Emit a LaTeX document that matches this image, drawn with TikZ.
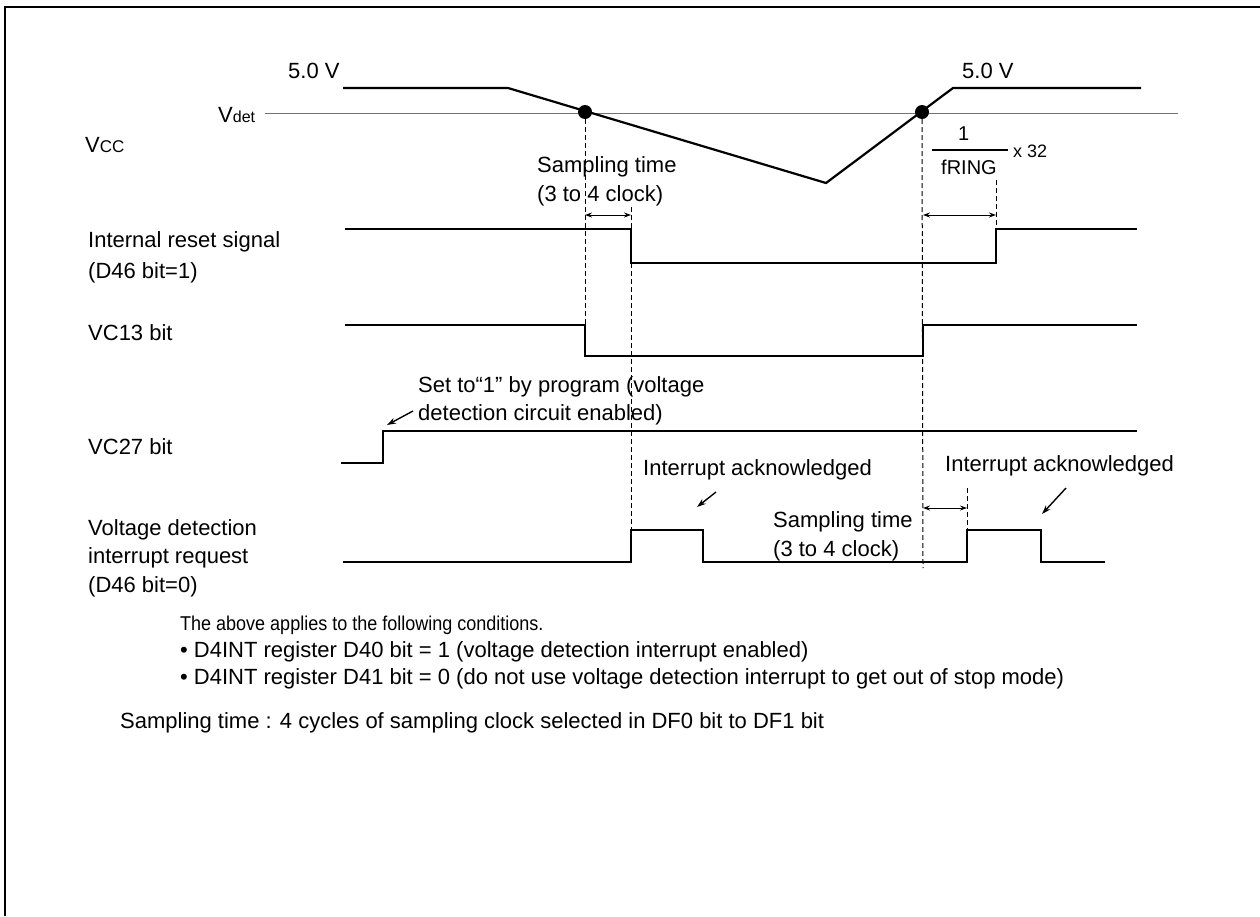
\documentclass[tikz,border=0pt]{standalone}
\usepackage{fontspec}
\usepackage{graphicx}
\setmainfont{Liberation Sans}
\usetikzlibrary{arrows.meta}

\begin{document}
\begin{tikzpicture}[x=1pt,y=-1pt]
    \tikzset{
        lbl/.style={anchor=base west,inner sep=0pt,font=\fontsize{22}{26}\selectfont},
        small/.style={anchor=base west,inner sep=0pt,font=\fontsize{20}{24}\selectfont},
        wave/.style={line width=2.2pt,line join=miter},
        guide/.style={line width=1pt,dash pattern=on 5pt off 3pt},
        span/.style={{Stealth[length=7pt,width=5pt]}-{Stealth[length=7pt,width=5pt]},line width=1pt},
        pointer/.style={-{Stealth[length=9pt,width=6pt]},line width=1.4pt},
        dot/.style={circle,fill=black,inner sep=0pt,minimum size=14pt}
    }
    \useasboundingbox (0,0) rectangle (1260,916);
    \draw[line width=2.5pt] (5,916) -- (5,7) -- (1260,7);

    % Vdet level and Vcc
    \node[lbl] (vdet) at (218,122) {V{\fontsize{16}{18}\selectfont det}};
    \draw[black!55,line width=0.8pt] (265,113) -- (1178,113);
    \node[lbl] (vcc) at (85,152) {V{\fontsize{17}{20}\selectfont CC}};
    \node[lbl] (v1) at (288,78) {5.0 V};
    \node[lbl] (v2) at (962,78) {5.0 V};
    \draw[wave] (343,88) -- (508,88) -- (826,183) -- (953,88) -- (1141,88);
    \node[dot] (d1) at (585,112) {};
    \node[dot] (d2) at (922,112) {};

    % time marks
    \coordinate (a) at (631,207);
    \coordinate (c) at (996,180);
    \coordinate (e) at (967,488);

    % Internal reset signal
    \node[lbl] (rst) at (88,247) {Internal reset signal};
    \node[lbl] (rst2) at (88,278) {(D46 bit=1)};
    \draw[wave] (345,229) -- (631,229) -- (631,263) -- (996,263) -- (996,229) -- (1137,229);

    % VC13 bit
    \node[lbl] (vc13) at (88,340) {VC13 bit};
    \draw[wave] (345,325) -- (585,325) -- (585,356) -- (923,356) -- (923,325) -- (1137,325);

    % VC27 bit
    \node[lbl] (vc27) at (88,454) {VC27 bit};
    \draw[wave] (341,463) -- (383,463) -- (383,431) -- (1137,431);
    \node[lbl] (set1) at (418,392) {Set to“1” by program (voltage};
    \node[lbl] (set2) at (418,420) {detection circuit enabled)};
    \coordinate (p1) at (413,411);
    \coordinate (p1e) at (387,425);
    \draw[pointer] (p1) -- (p1e);

    % Voltage detection interrupt request
    \node[lbl] (irq) at (88,535) {Voltage detection};
    \node[lbl] (irq2) at (88,563) {interrupt request};
    \node[lbl] (irq3) at (88,592) {(D46 bit=0)};
    \draw[wave] (343,562) -- (631,562) -- (631,530) -- (703,530) -- (703,562)
        -- (967,562) -- (967,530) -- (1041,530) -- (1041,562) -- (1105,562);

    % guides
    \draw[guide] (d1.south) -- (585,325);
    \draw[guide] (a) -- (631,530);
    \draw[guide] (d2.south) -- (923,568);
    \draw[guide] (c) -- (996,229);
    \draw[guide] (e) -- (967,530);

    % sampling times
    \node[lbl] (smp1) at (537,172) {Sampling time};
    \node[lbl] (smp1b) at (537,201) {(3 to 4 clock)};
    \draw[span] (585,215) -- (631,215);
    \node[lbl] (smp2) at (773,527) {Sampling time};
    \node[lbl] (smp2b) at (773,556) {(3 to 4 clock)};
    \draw[span] (923,508) -- (967,508);

    % 1/fRING x 32
    \node[small] (one) at (958,140) {1};
    \draw[line width=1.3pt] (932,150) -- (1008,150);
    \node[small] (fring) at (941,174) {fRING};
    \node[small,font=\fontsize{18}{22}\selectfont] (x32) at (1013,157) {x 32};
    \draw[span] (923,215) -- (996,215);

    % interrupt acknowledged
    \node[lbl] (ack1) at (643,475) {Interrupt acknowledged};
    \node[lbl] (ack2) at (945,471) {Interrupt acknowledged};
    \coordinate (q1) at (716,492);
    \coordinate (q1e) at (697,507);
    \coordinate (q2) at (1066,488);
    \coordinate (q2e) at (1042,514);
    \draw[pointer] (q1) -- (q1e);
    \draw[pointer] (q2) -- (q2e);

    % notes
    \node[lbl,font=\fontsize{20}{24}\selectfont] (n1) at (180,630) {\scalebox{0.9}[1]{The above applies to the following conditions.}};
    \node[lbl] (n2) at (180,657) {• D4INT register D40 bit = 1 (voltage detection interrupt enabled)};
    \node[lbl] (n3) at (180,684) {• D4INT register D41 bit = 0 (do not use voltage detection interrupt to get out of stop mode)};
    \node[lbl] (n4) at (120,728) {Sampling time : 4 cycles of sampling clock selected in DF0 bit to DF1 bit};
\end{tikzpicture}
\end{document}
